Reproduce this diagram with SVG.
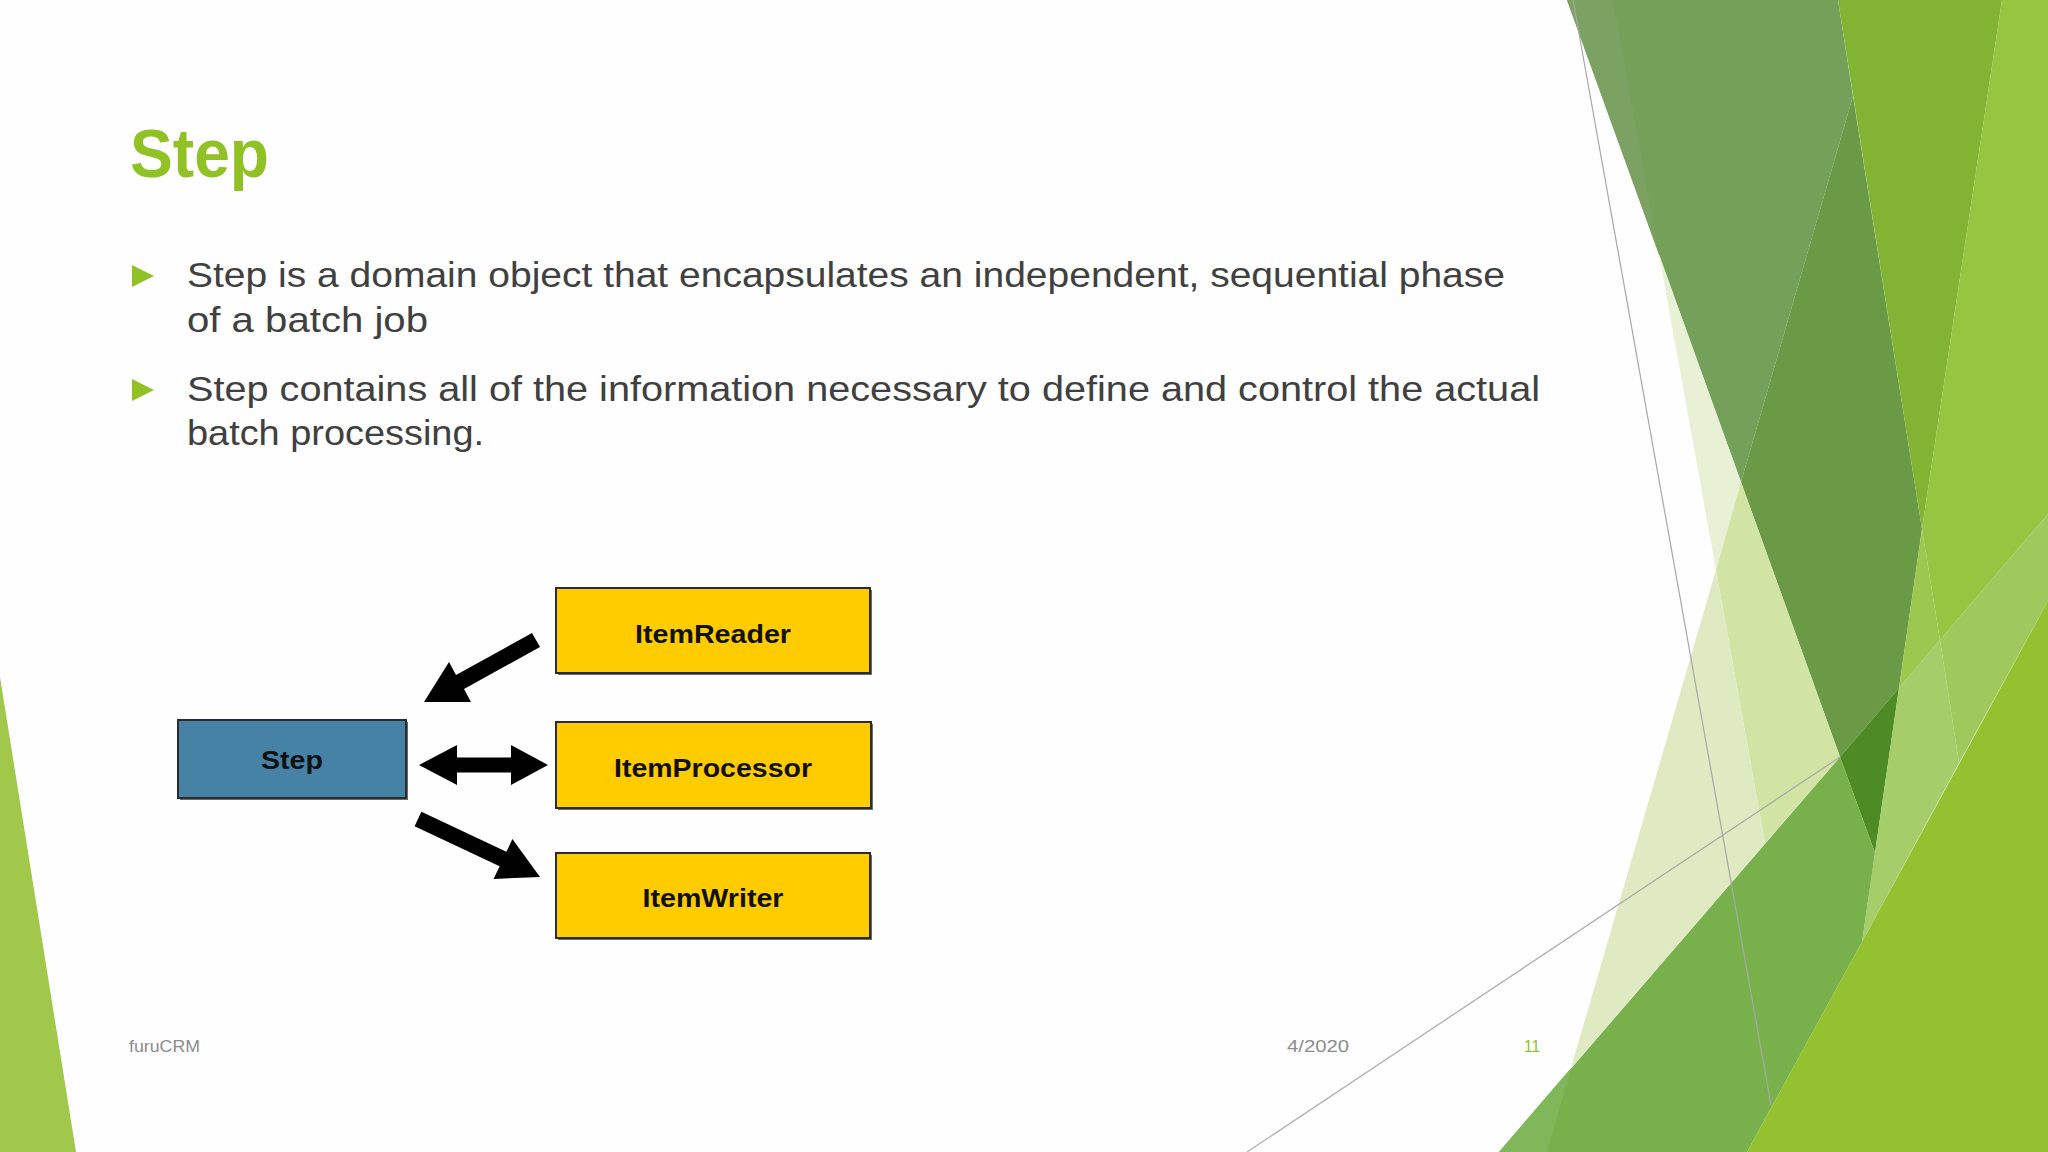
<svg xmlns="http://www.w3.org/2000/svg" width="2048" height="1152" viewBox="0 0 2048 1152">
<style>
.body{font-family:"Liberation Sans","DejaVu Sans",sans-serif;font-size:35px;fill:#404040}
.foot{font-family:"Liberation Sans","DejaVu Sans",sans-serif;font-size:17px;fill:#8c8c8c}
.lbl{font-family:"Liberation Sans",Arial,sans-serif;font-size:26px;font-weight:bold;fill:#111;text-anchor:middle}
.yel{fill:#FFCC00;stroke:#2b2b2b;stroke-width:2}
.blu{fill:#4682A6;stroke:#2b2b2b;stroke-width:2}
.shd{fill:#6b6b6b}
.arr{fill:#000}
.bul{fill:#90C226}
.thin{stroke:#a8a8a8;stroke-width:1.2;fill:none}
</style>
<rect width="2048" height="1152" fill="#fefefe"/>
<g id="decor">
<polygon points="0,677 76,1152 0,1152" fill="#A1C74B"/>
<polygon points="1567,0 1838,0 1853,96 1741,482" fill="#75A05A"/>
<polygon points="1567,0 1613,0 1659,254" fill="#7BA262"/>
<polygon points="1853,96 1922,529 1899,688 1840,757 1741,482" fill="#6A9A45"/>
<polygon points="1840,757 1899,688 1875,853" fill="#4F8B25"/>
<polygon points="1838,0 2002,0 1922,529" fill="#82B332"/>
<polygon points="2002,0 2048,0 2048,514 1940,640 1922,529" fill="#97C441"/>
<polygon points="1922,529 1940,640 1899,688" fill="#9CC84F"/>
<polygon points="1899,688 1940,640 1959,763 1862,942" fill="#A5CE6B"/>
<polygon points="1940,640 2048,514 2048,601 1959,763" fill="#9FC95C"/>
<polygon points="1499,1152 1840,757 1875,853 1862,942 1747,1152" fill="#78B14C"/>
<polygon points="1571,1068 1547,1152 1499,1152" fill="#80B75B"/>
<polygon points="2048,601 2048,1152 1747,1152 1862,942" fill="#93C12F"/>
<polygon points="1659,254 1741,482 1716,570" fill="#E8F0D5"/>
<polygon points="1716,570 1741,482 1840,757 1765,843" fill="#D2E4A4"/>
<polygon points="1716,570 1765,843 1571,1068" fill="#DFEAC2"/>
<line class="thin" x1="1573" y1="0" x2="1771" y2="1105"/>
<line class="thin" x1="1247" y1="1152" x2="1840" y2="757"/>
</g>
<g id="title">
<text x="130" y="177" font-family="'Liberation Sans','DejaVu Sans',sans-serif" font-size="68" font-weight="bold" fill="#90C226" textLength="139" lengthAdjust="spacingAndGlyphs">Step</text>
</g>
<g id="bullets">
<polygon class="bul" points="132,265 154,276 132,287"/>
<text class="body" x="187" y="287" textLength="1318" lengthAdjust="spacingAndGlyphs">Step is a domain object that encapsulates an independent, sequential phase</text>
<text class="body" x="187" y="332" textLength="241" lengthAdjust="spacingAndGlyphs">of a batch job</text>
<polygon class="bul" points="132,379 154,390 132,401"/>
<text class="body" x="187" y="401" textLength="1353" lengthAdjust="spacingAndGlyphs">Step contains all of the information necessary to define and control the actual</text>
<text class="body" x="187" y="445" textLength="297" lengthAdjust="spacingAndGlyphs">batch processing.</text>
</g>
<g id="node-step">
<rect class="shd" x="180" y="722" width="228" height="78"/>
<rect class="blu" x="178" y="720" width="228" height="78"/>
<text class="lbl" x="292" y="769" textLength="62" lengthAdjust="spacingAndGlyphs">Step</text>
</g>
<g id="node-itemreader">
<rect class="shd" x="558" y="590" width="314" height="85"/>
<rect class="yel" x="556" y="588" width="314" height="85"/>
<text class="lbl" x="713" y="643" textLength="156" lengthAdjust="spacingAndGlyphs">ItemReader</text>
</g>
<g id="node-itemprocessor">
<rect class="shd" x="558" y="724" width="315" height="86"/>
<rect class="yel" x="556" y="722" width="315" height="86"/>
<text class="lbl" x="713" y="777" textLength="198" lengthAdjust="spacingAndGlyphs">ItemProcessor</text>
</g>
<g id="node-itemwriter">
<rect class="shd" x="558" y="855" width="314" height="85"/>
<rect class="yel" x="556" y="853" width="314" height="85"/>
<text class="lbl" x="713" y="907" textLength="141" lengthAdjust="spacingAndGlyphs">ItemWriter</text>
</g>
<g id="connectors">
<polygon class="arr" points="540,647 464,689 471,702 424,702 449,662 456,675 532,633"/>
<polygon class="arr" points="419,765 457,745 457,757.5 511,757.5 511,745 548,765 511,785 511,772.5 457,772.5 457,785"/>
<polygon class="arr" points="414.6,826.2 499.6,866.2 493.6,878.9 540,877 512.4,839.1 506.4,851.8 421.4,811.8"/>
</g>
<g id="footer">
<text class="foot" x="129" y="1052" textLength="71" lengthAdjust="spacingAndGlyphs">furuCRM</text>
<text class="foot" x="1287" y="1052" textLength="62" lengthAdjust="spacingAndGlyphs">4/2020</text>
<text class="foot" x="1524" y="1052" textLength="16" lengthAdjust="spacingAndGlyphs" style="fill:#90C226">11</text>
</g>
</svg>
